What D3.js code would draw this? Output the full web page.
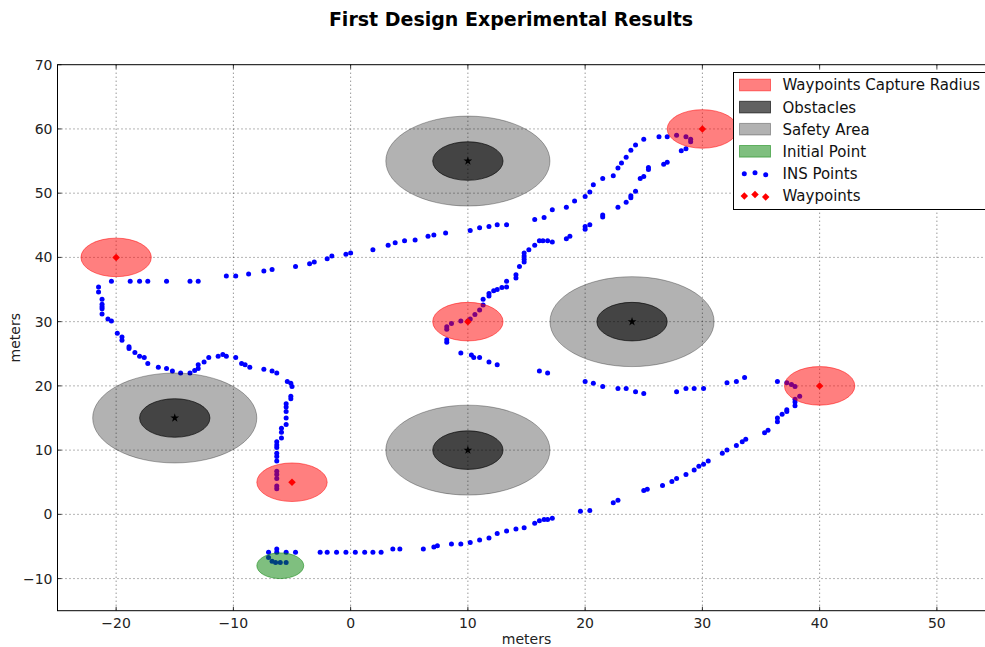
<!DOCTYPE html>
<html>
<head>
<meta charset="utf-8">
<script src="https://cdn.jsdelivr.net/npm/d3@7"></script>
<style>
  body { margin: 0; background: #fff; }
  svg { display: block; font-family: "DejaVu Sans", sans-serif; }
</style>
</head>
<body>
<svg id="chart" width="985" height="647"></svg>
<script>
// Ticks
const xTicks = [-20, -10, 0, 10, 20, 30, 40, 50];
const yTicks = [-10, 0, 10, 20, 30, 40, 50, 60, 70];

// Waypoints (capture radius 3 m)
const waypointX = [-20, -5, 10, 30, 40];
const waypointY = [40, 5, 30, 60, 20];
const captureRadius = 3;

// Obstacles (radius 3 m) and safety areas (radius 7 m)
const obstacleX = [-15, 10, 10, 24];
const obstacleY = [15, 55, 10, 30];
const obstacleRadius = 3;
const safetyRadius = 7;

// Initial point
const initialX = [-6];
const initialY = [-8];
const initialRadius = 2;

// INS points, in path order
const insX = [-5.5, -6.0, -6.4, -6.7, -7.0, -7.0, -6.3, -6.3, -5.5, -4.7,
  -2.6, -2.0, -1.2, -0.4, 0.4, 1.2, 1.9, 2.6, 3.6, 4.2, 6.2, 7.1, 7.4, 8.6, 9.4, 10.2, 11.0, 11.8, 12.5, 13.3,
  14.1, 14.8, 15.7, 16.1, 16.5, 16.8, 17.2, 19.6, 20.4, 22.4, 22.8, 25.0, 25.3, 26.6, 27.4, 27.8, 28.6, 29.3,
  29.7, 30.1, 30.5, 31.7, 32.1, 32.9, 33.4, 33.7, 35.3, 35.6, 36.4, 36.4, 36.8, 37.2, 37.2, 37.9, 37.9, 37.9, 38.3,
  37.9, 37.6, 37.2, 36.4, 33.6, 32.9, 32.1, 30.1, 29.3, 28.6, 27.8, 25.0, 24.3, 23.5, 22.8, 21.5, 20.7, 20.0,
  16.8, 16.1, 12.5, 11.8, 11.0, 10.5, 10.3, 9.4, 8.2, 8.2, 8.2, 8.2, 8.6, 9.4, 10.0, 10.2, 10.6, 11.0, 11.3, 11.3,
  11.8, 11.8, 12.2, 12.5, 12.9, 13.3, 13.3, 14.1, 14.1, 14.4, 14.8, 14.8, 14.8, 14.8, 15.2, 15.7, 16.1, 16.4, 16.8,
  17.2, 18.4, 18.7, 20.0, 20.0, 20.4, 21.5, 21.5, 22.8, 23.5, 23.9, 23.9, 24.3, 24.7, 25.0, 25.4, 25.4, 26.7, 27.0,
  28.2, 28.6, 29.0, 29.0, 28.6, 27.8, 27.0, 26.3, 25.0, 24.3, 23.9, 23.5, 23.1, 22.8, 22.4, 21.5, 20.7, 20.4, 20.0,
  19.1, 18.4, 17.2, 16.5, 15.7, 13.3, 12.5, 11.8, 11.0, 10.2, 8.1, 7.1, 6.6, 5.5, 4.6, 3.8, 3.2, 1.9, 0.0, -0.4,
  -1.6, -2.0, -3.1, -3.5, -4.7, -6.7, -7.4, -8.7, -9.8, -10.6, -13.0, -13.7, -15.7, -17.3, -18.0, -18.8, -20.4,
  -21.5, -21.5, -21.2, -21.2, -21.2, -21.2, -21.2, -20.7, -20.4, -19.9, -19.5, -19.5, -18.9, -18.9, -18.4, -18.0,
  -17.6, -17.3, -16.4, -15.7, -15.2, -14.5, -13.7, -13.3, -13.0, -13.0, -12.5, -12.1, -11.3, -10.9, -10.6, -9.8,
  -9.3, -9.0, -8.6, -7.4, -6.7, -6.3, -5.4, -5.1, -5.0, -5.1, -5.1, -5.5, -5.5, -5.5, -5.5, -5.5, -5.9, -5.9, -5.9,
  -6.3, -6.3, -6.3, -6.3, -6.3, -6.3, -6.3, -6.3, -6.3, -6.3, -6.3];
const insY = [-7.5, -7.5, -7.5, -7.3, -6.7, -5.9, -5.9, -5.4, -5.9, -5.9,
  -5.9, -5.9, -5.9, -5.9, -5.9, -5.9, -5.9, -5.9, -5.4, -5.4, -5.4, -5.1, -4.9, -4.6, -4.6, -4.4, -4.0, -3.7, -3.0, -2.6,
  -2.3, -2.1, -1.4, -1.0, -0.8, -0.8, -0.6, 0.5, 0.6, 1.8, 2.2, 3.7, 3.9, 4.5, 5.1, 5.6, 6.2, 6.9,
  7.5, 7.8, 8.3, 9.5, 10.0, 10.7, 11.3, 11.7, 12.7, 13.1, 14.4, 15.0, 15.6, 16.0, 16.3, 16.9, 17.5, 17.9, 18.4,
  19.9, 20.2, 20.5, 20.7, 21.3, 20.7, 20.5, 19.6, 19.6, 19.6, 19.1, 18.8, 19.1, 19.6, 19.6, 19.9, 20.4, 20.7,
  22.0, 22.3, 23.3, 23.7, 24.4, 24.4, 24.8, 25.1, 26.8, 27.2, 28.8, 29.2, 29.7, 30.1, 30.1, 30.4, 31.1, 31.8, 32.6, 33.5,
  34.0, 34.4, 34.8, 35.0, 35.3, 35.4, 36.3, 36.8, 37.3, 38.6, 39.3, 39.7, 40.2, 40.7, 41.2, 41.9, 42.6, 42.6, 42.6,
  42.4, 42.9, 43.3, 44.4, 44.8, 45.1, 46.3, 46.6, 47.8, 48.6, 49.3, 49.6, 50.3, 52.3, 52.6, 53.7, 54.0, 54.5, 54.8,
  56.6, 56.9, 58.0, 58.4, 58.8, 59.0, 58.8, 58.8, 58.4, 57.5, 56.7, 55.6, 54.7, 53.9, 52.7, 52.3, 51.3, 50.2, 49.5,
  48.8, 47.8, 47.4, 46.2, 45.9, 45.1, 45.1, 44.8, 44.6, 44.2, 43.8, 43.5, 43.3, 42.7, 42.6, 42.3, 41.9, 41.2, 40.7, 40.5,
  40.2, 39.8, 39.3, 39.0, 38.6, 38.1, 37.9, 37.4, 37.1, 37.1, 36.3, 36.3, 36.3, 36.3, 36.3, 36.3, 36.3,
  35.4, 34.6, 33.5, 32.7, 32.3, 32.0, 31.2, 30.4, 30.1, 28.2, 27.6, 27.1, 26.1, 25.8, 25.2, 24.6,
  24.4, 23.5, 22.9, 22.7, 22.3, 22.0, 22.0, 22.4, 22.7, 23.3, 23.7, 24.4, 24.6, 24.9, 24.6, 24.4,
  23.5, 23.3, 22.9, 22.6, 22.3, 22.0, 20.7, 20.4, 19.9, 18.4, 18.0, 17.2, 16.7, 16.0, 15.0, 14.0, 13.4, 12.8, 11.9,
  11.3, 10.8, 10.4, 9.5, 9.0, 8.3, 6.7, 6.2, 5.6, 4.4, 4.0];

const legendLabels = ["Waypoints Capture Radius", "Obstacles", "Safety Area", "Initial Point", "INS Points", "Waypoints"];

// Plot area (right part runs past the window, like the reference)
const plotLeft = 57.5, plotRight = 995.5, plotTop = 64.7, plotBottom = 610.7;

const x = d3.scaleLinear().domain([-25, 55]).range([plotLeft, plotRight]);
const y = d3.scaleLinear().domain([-15, 70]).range([plotBottom, plotTop]);

// radius in data units -> pixels on each axis
const rx = r => x(r) - x(0);
const ry = r => y(0) - y(r);

const svg = d3.select("#chart");

svg.append("defs").append("clipPath")
   .attr("id", "plotclip")
   .append("rect")
   .attr("x", plotLeft).attr("y", plotTop)
   .attr("width", plotRight - plotLeft).attr("height", plotBottom - plotTop);

// Grid
const grid = svg.append("g")
                .attr("stroke", "#000")
                .attr("stroke-width", 0.7)
                .attr("stroke-opacity", 0.85)
                .attr("stroke-dasharray", "1,3");
grid.selectAll("line.gx")
    .data(xTicks)
    .join("line")
    .attr("class", "gx")
    .attr("x1", d => x(d)).attr("x2", d => x(d))
    .attr("y1", plotTop).attr("y2", plotBottom);
grid.selectAll("line.gy")
    .data(yTicks.filter(d => d < 70))
    .join("line")
    .attr("class", "gy")
    .attr("x1", plotLeft).attr("x2", plotRight)
    .attr("y1", d => y(d)).attr("y2", d => y(d));

const plot = svg.append("g").attr("clip-path", "url(#plotclip)");

// INS points go under the shaded areas
plot.append("g")
    .attr("fill", "#0000ff")
    .selectAll("circle")
    .data(insX.map((d, i) => [d, insY[i]]))
    .join("circle")
    .attr("cx", d => x(d[0]))
    .attr("cy", d => y(d[1]))
    .attr("r", 2.5);

// Ellipse helper: data circles look like ellipses because axes aren't equal
function discs(cls, xs, ys, r, fill, alpha) {
    plot.append("g")
        .selectAll("ellipse." + cls)
        .data(xs.map((d, i) => [d, ys[i]]))
        .join("ellipse")
        .attr("class", cls)
        .attr("cx", d => x(d[0]))
        .attr("cy", d => y(d[1]))
        .attr("rx", rx(r))
        .attr("ry", ry(r))
        .attr("fill", fill)
        .attr("fill-opacity", alpha)
        .attr("stroke", fill)
        .attr("stroke-opacity", alpha)
        .attr("stroke-width", 1);
}

discs("safety", obstacleX, obstacleY, safetyRadius, "#000", 0.3);
discs("obstacle", obstacleX, obstacleY, obstacleRadius, "#000", 0.62);
discs("capture", waypointX, waypointY, captureRadius, "#ff0000", 0.5);
discs("initial", initialX, initialY, initialRadius, "#008000", 0.5);

// Obstacle centres as stars
plot.append("g")
    .selectAll("path")
    .data(obstacleX.map((d, i) => [d, obstacleY[i]]))
    .join("path")
    .attr("d", d3.symbol(d3.symbolStar, 24))
    .attr("transform", d => `translate(${x(d[0])},${y(d[1])})`)
    .attr("fill", "#000");

// Waypoints as red diamonds
const diamond = d3.symbol(d3.symbolSquare, 28);
plot.append("g")
    .selectAll("path")
    .data(waypointX.map((d, i) => [d, waypointY[i]]))
    .join("path")
    .attr("d", diamond)
    .attr("transform", d => `translate(${x(d[0])},${y(d[1])}) rotate(45)`)
    .attr("fill", "#ff0000");

// Frame
svg.append("rect")
   .attr("x", plotLeft).attr("y", plotTop)
   .attr("width", plotRight - plotLeft).attr("height", plotBottom - plotTop)
   .attr("fill", "none")
   .attr("stroke", "#000")
   .attr("stroke-width", 1);

// Inward ticks on all sides (classic style)
const tickLen = 4;
const ticks = svg.append("g").attr("stroke", "#000").attr("stroke-width", 0.8);
xTicks.forEach(t => {
    ticks.append("line").attr("x1", x(t)).attr("x2", x(t)).attr("y1", plotBottom).attr("y2", plotBottom - tickLen);
    ticks.append("line").attr("x1", x(t)).attr("x2", x(t)).attr("y1", plotTop).attr("y2", plotTop + tickLen);
});
yTicks.forEach(t => {
    ticks.append("line").attr("x1", plotLeft).attr("x2", plotLeft + tickLen).attr("y1", y(t)).attr("y2", y(t));
});

const fmt = d => d < 0 ? "\u2212" + Math.abs(d) : String(d);

svg.append("g")
   .selectAll("text")
   .data(xTicks)
   .join("text")
   .attr("x", d => x(d))
   .attr("y", plotBottom + 17)
   .attr("text-anchor", "middle")
   .style("font-size", "14px")
   .attr("fill", "#222")
   .text(fmt);

svg.append("g")
   .selectAll("text")
   .data(yTicks)
   .join("text")
   .attr("x", plotLeft - 5)
   .attr("y", d => y(d))
   .attr("dy", "0.36em")
   .attr("text-anchor", "end")
   .style("font-size", "14px")
   .attr("fill", "#222")
   .text(fmt);

// Axis labels and title
svg.append("text")
   .attr("x", (plotLeft + plotRight) / 2)
   .attr("y", 644)
   .attr("text-anchor", "middle")
   .style("font-size", "14px")
   .attr("fill", "#222")
   .text("meters");

svg.append("text")
   .attr("transform", `translate(20,${(plotTop + plotBottom) / 2}) rotate(-90)`)
   .attr("text-anchor", "middle")
   .style("font-size", "14px")
   .attr("fill", "#222")
   .text("meters");

svg.append("text")
   .attr("x", 511)
   .attr("y", 26)
   .attr("text-anchor", "middle")
   .style("font-size", "19px")
   .style("font-weight", "bold")
   .text("First Design Experimental Results");

// Legend
const legend = svg.append("g");
legend.append("rect")
      .attr("x", 733.5).attr("y", 72.5)
      .attr("width", 300).attr("height", 137)
      .attr("fill", "#fff")
      .attr("stroke", "#000")
      .attr("stroke-width", 1);

const rowY = i => 85 + i * 22.1;
const patchStyle = [["#ff0000", 0.5], ["#000", 0.62], ["#000", 0.3], ["#008000", 0.5]];
patchStyle.forEach((p, i) => {
    legend.append("rect")
          .attr("x", 739.5).attr("y", rowY(i) - 5.8)
          .attr("width", 31).attr("height", 11.6)
          .attr("fill", p[0]).attr("fill-opacity", p[1])
          .attr("stroke", p[0]).attr("stroke-opacity", p[1]);
});
const markerX = [744.3, 755, 765.7];
const insDy = [0.4, -0.6, 1.4];
const wpDy = [0.4, -1.0, 1.4];
markerX.forEach((mx, j) => {
    legend.append("circle")
          .attr("cx", mx).attr("cy", rowY(4) + insDy[j])
          .attr("r", 2.5).attr("fill", "#0000ff");
    legend.append("path")
          .attr("d", diamond)
          .attr("transform", `translate(${mx},${rowY(5) + wpDy[j]}) rotate(45)`)
          .attr("fill", "#ff0000");
});
legend.selectAll("text")
      .data(legendLabels)
      .join("text")
      .attr("x", 782.5)
      .attr("y", (d, i) => rowY(i))
      .attr("dy", "0.36em")
      .style("font-size", "15px")
      .attr("fill", "#111")
      .text(d => d);
</script>
</body>
</html>
